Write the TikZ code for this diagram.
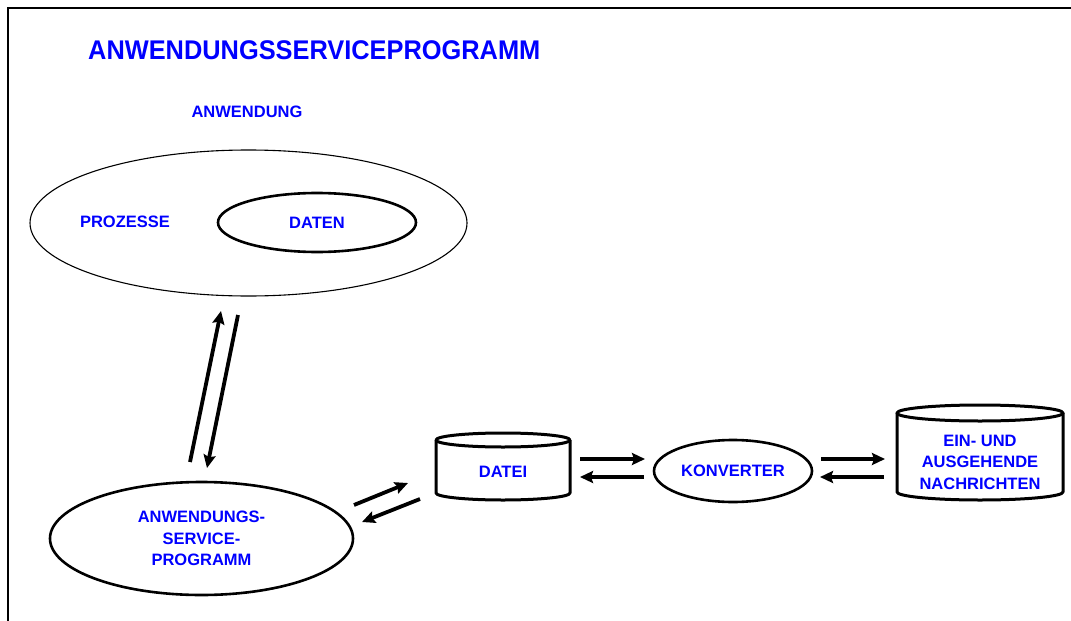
\documentclass[tikz,border=0pt]{standalone}
\usepackage{fontspec}
\setmainfont{Liberation Sans}
\usetikzlibrary{shapes.geometric,arrows.meta}
\begin{document}
\begin{tikzpicture}[x=1pt,y=-1pt,
  lbl/.style={text=blue,font=\fontsize{16.5}{21.5}\selectfont\bfseries,align=center,inner sep=0pt},
  ell/.style={ellipse,draw,inner sep=0pt},
  cyl/.style={line width=3pt,line join=round},
  flow/.style={line width=3.8pt,-{Stealth[length=13pt,width=12pt,inset=2pt]}}]
\useasboundingbox (0,0) rectangle (1071,621);
% frame
\draw[line width=1.3pt] (8,621) -- (8,8) -- (1071,8);
% title
\node[text=blue,font=\fontsize{27}{30}\selectfont\bfseries,anchor=west,inner sep=0pt] (title) at (88,50) {\scalebox{0.94}[1]{ANWENDUNGSSERVICEPROGRAMM}};
% application
\node[lbl] (anw) at (247,112) {ANWENDUNG};
\node[ell,line width=1.1pt,minimum width=437pt,minimum height=146pt] (app) at (248.5,223) {};
\node[lbl] (proz) at (125,222) {PROZESSE};
\node[ell,lbl,draw=black,line width=2.6pt,minimum width=198pt,minimum height=59pt] (daten) at (317,222.5) {DATEN};
% application service program
\node[ell,lbl,draw=black,line width=2.6pt,minimum width=303pt,minimum height=113pt] (asp) at (201.5,538.5) {ANWENDUNGS-\\SERVICE-\\PROGRAMM};
% DATEI cylinder
\draw[cyl] (436,440) -- (436,493) arc[start angle=180,end angle=0,x radius=67,y radius=7] -- (570,440);
\draw[cyl] (503,440) ellipse[x radius=67,y radius=7];
\node[lbl,minimum width=134pt,minimum height=53pt] (datei) at (503,472) {DATEI};
% KONVERTER
\node[ell,lbl,draw=black,line width=2.6pt,minimum width=158pt,minimum height=62pt] (konv) at (733,471) {KONVERTER};
% NACHRICHTEN cylinder
\draw[cyl] (897,413) -- (897,492) arc[start angle=180,end angle=0,x radius=83,y radius=8] -- (1063,413);
\draw[cyl] (980,413) ellipse[x radius=83,y radius=8];
\node[lbl,minimum width=166pt] (nachr) at (980,462) {EIN- UND\\AUSGEHENDE\\NACHRICHTEN};
% arrow end points
\coordinate (u1) at (190,462); \coordinate (u2) at (221,311);
\coordinate (d1) at (238,315); \coordinate (d2) at (207,468);
\coordinate (p1) at (354,505); \coordinate (p2) at (408,483);
\coordinate (q1) at (420,499); \coordinate (q2) at (362,522);
\coordinate (r1) at (580,459); \coordinate (r2) at (645,459);
\coordinate (s1) at (644,477); \coordinate (s2) at (580,477);
\coordinate (t1) at (821,459); \coordinate (t2) at (885,459);
\coordinate (w1) at (884,477); \coordinate (w2) at (820,477);
\draw[flow] (u1) -- (u2);
\draw[flow] (d1) -- (d2);
\draw[flow] (p1) -- (p2);
\draw[flow] (q1) -- (q2);
\draw[flow] (r1) -- (r2);
\draw[flow] (s1) -- (s2);
\draw[flow] (t1) -- (t2);
\draw[flow] (w1) -- (w2);
\end{tikzpicture}
\end{document}
